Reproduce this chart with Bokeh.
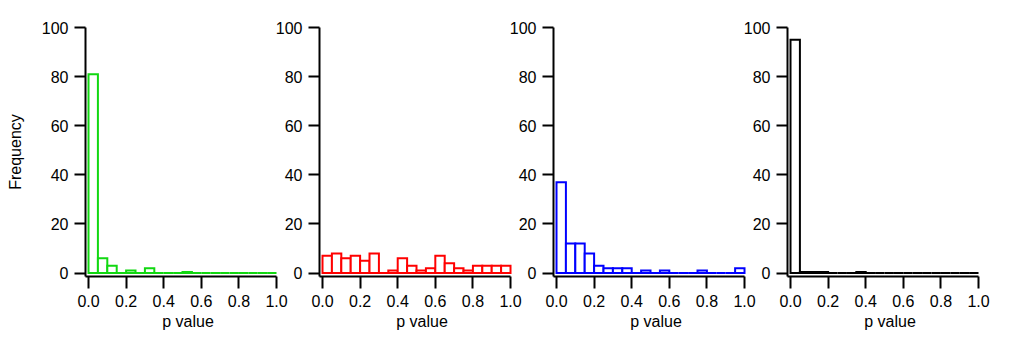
import numpy as np
from bokeh.plotting import figure
from bokeh.layouts import row
from bokeh.models import FixedTicker, NumeralTickFormatter
from bokeh.embed import file_html
from bokeh.resources import INLINE

# ---- data (frequency per 0.05-wide p-value bin) ----
bin_starts = [0.00, 0.05, 0.10, 0.15, 0.20, 0.25, 0.30, 0.35, 0.40, 0.45,
              0.50, 0.55, 0.60, 0.65, 0.70, 0.75, 0.80, 0.85, 0.90, 0.95]
bin_width = 0.05
green_counts = [81, 6, 3, 0, 1, 0, 2, 0, 0, 0, 0.4, 0, 0, 0, 0, 0, 0, 0, 0, 0]
red_counts = [7, 8, 6, 7, 5, 8, 0, 1, 6, 3, 1, 2, 7, 4, 2, 1, 3, 3, 3, 3]
blue_counts = [37, 12, 12, 8, 3, 2, 2, 2, 0, 1, 0, 1, 0, 0, 0, 1, 0, 0, 0, 2]
black_counts = [95, 0.4, 0.4, 0.4, 0, 0, 0, 0.4, 0, 0, 0, 0, 0, 0, 0, 0, 0, 0, 0, 0]
series = [("#11d811", green_counts), ("#ff0000", red_counts),
          ("#0000ff", blue_counts), ("#000000", black_counts)]
x_ticks = [0.0, 0.2, 0.4, 0.6, 0.8, 1.0]
y_ticks = [0, 20, 40, 60, 80, 100]
x_label = "p value"
y_label = "Frequency"

FONT = "Liberation Sans"
FS = "16px"

X0, X1 = -0.016, 1.0744
Y0, Y1 = -1.4, 100


def make_panel(color, counts, first):
    left_border = 85 if first else 50
    frame_w = 205
    p = figure(width=left_border + frame_w, height=341,
               x_range=(X0, X1), y_range=(Y0, Y1),
               output_backend="svg", toolbar_location=None,
               min_border_left=left_border, min_border_right=0,
               min_border_top=27, min_border_bottom=65)
    if not first:
        p.margin = (0, 0, 0, -21)
    p.background_fill_alpha = 0
    p.border_fill_alpha = 0
    p.outline_line_color = None
    p.xgrid.visible = False
    p.ygrid.visible = False

    lefts = np.array(bin_starts)
    rights = lefts + bin_width
    p.quad(left=lefts, right=rights, bottom=0, top=counts,
           fill_color="white", fill_alpha=1.0,
           line_color=color, line_width=2, line_join="miter")

    for ax in (p.xaxis[0], p.yaxis[0]):
        ax.axis_line_width = 2
        ax.major_tick_line_width = 2
        ax.minor_tick_line_color = None
        ax.major_tick_in = 0
        ax.major_label_text_font = FONT
        ax.major_label_text_font_size = FS
        ax.major_label_text_color = "black"
        ax.axis_label_text_font = FONT
        ax.axis_label_text_font_size = FS
        ax.axis_label_text_font_style = "normal"
        ax.axis_label_text_color = "black"

    xa = p.xaxis[0]
    xa.ticker = FixedTicker(ticks=x_ticks)
    xa.formatter = NumeralTickFormatter(format="0.0")
    xa.bounds = (X0, 1.0)
    xa.major_tick_out = 12
    xa.major_label_standoff = 6
    xa.axis_label = x_label
    xa.axis_label_standoff = 3

    ya = p.yaxis[0]
    ya.ticker = FixedTicker(ticks=y_ticks)
    ya.bounds = (Y0, Y1)
    ya.major_tick_out = 11
    ya.major_label_standoff = 6
    if first:
        ya.axis_label = y_label
        ya.axis_label_standoff = 15
    return p


panels = [make_panel(c, v, i == 0) for i, (c, v) in enumerate(series)]
layout = row(*panels, spacing=0)

with open("out.html", "w") as f:
    f.write(file_html(layout, INLINE))
